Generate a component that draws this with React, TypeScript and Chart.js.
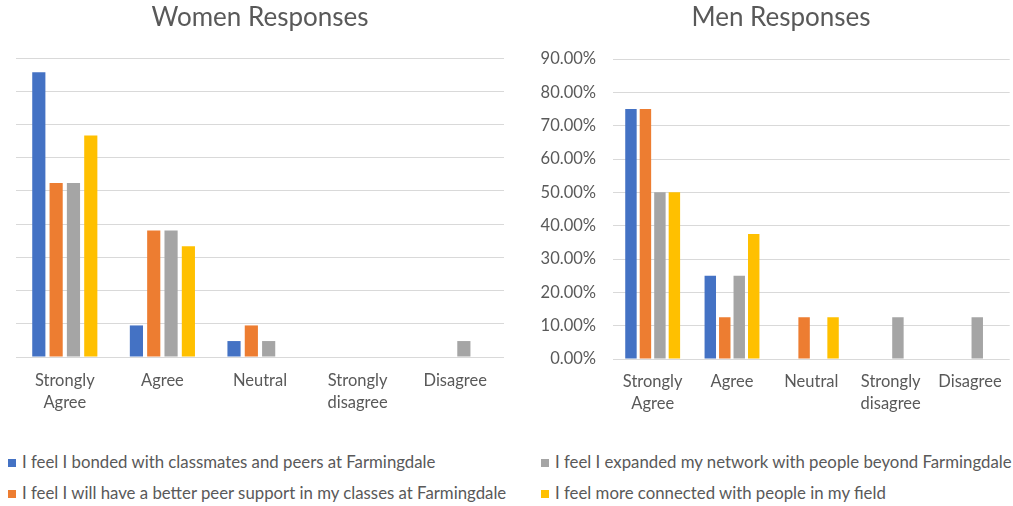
import React, { useEffect, useRef } from "react";
import { Chart, registerables } from "chart.js";

Chart.register(...registerables);

const categories = ["Strongly Agree", "Agree", "Neutral", "Strongly disagree", "Disagree"];
const seriesNames = [
  "I feel I bonded with classmates and peers at Farmingdale",
  "I feel I will have a better peer support in my classes at Farmingdale",
  "I feel I expanded my network with people beyond Farmingdale",
  "I feel more connected with people in my field",
];
const seriesColors = ["#4472C4", "#ED7D31", "#A5A5A5", "#FFC000"];

const womenBonded = [0.857, 0.095, 0.048, 0, 0];
const womenSupport = [0.524, 0.381, 0.095, 0, 0];
const womenNetwork = [0.524, 0.381, 0.048, 0, 0.048];
const womenField = [0.667, 0.333, 0, 0, 0];

const menBonded = [0.75, 0.25, 0, 0, 0];
const menSupport = [0.75, 0.125, 0.125, 0, 0];
const menNetwork = [0.5, 0.25, 0, 0.125, 0.125];
const menField = [0.5, 0.375, 0.125, 0, 0];

const yTickLabels = ["0.00%", "10.00%", "20.00%", "30.00%", "40.00%", "50.00%", "60.00%", "70.00%", "80.00%", "90.00%"];

const FONT = "Lato, 'Open Sans', sans-serif";
const TEXT = "#595959";
const GRID = "#d9d9d9";
const SMALL = 16.5;
const TITLE_SIZE = 26;

type Cfg = {
  title: string;
  series: number[][];
  showY: boolean;
  left: number;
  width: number;
  padLeft: number;
  padRight: number;
  yWidth: number;
  plotTop: number;
  plotBottom: number;
  catPct: number;
  barPct: number;
  titleCenter: number;
  labelPad: number;
};

const H = 420;

function BarPanel(c: Cfg) {
  const ref = useRef<HTMLCanvasElement | null>(null);
  useEffect(() => {
    if (!ref.current) return;
    const titleLine = TITLE_SIZE * 1.2;
    const titleTop = 18 - titleLine / 2;
    const chart = new Chart(ref.current, {
      type: "bar",
      data: {
        labels: categories.map((s) => s.split(" ")),
        datasets: c.series.map((d, i) => ({
          label: seriesNames[i],
          data: d,
          backgroundColor: seriesColors[i],
          borderWidth: 0,
          categoryPercentage: c.catPct,
          barPercentage: c.barPct,
        })),
      },
      plugins: [
        {
          id: "titleCenter",
          afterLayout(ch: any) {
            const tb = ch.titleBlock;
            if (tb) {
              const w = tb.right - tb.left;
              tb.left = c.titleCenter - w / 2;
              tb.right = c.titleCenter + w / 2;
            }
          },
        },
      ],
      options: {
        animation: false,
        responsive: false,
        maintainAspectRatio: false,
        layout: { padding: { left: c.padLeft, right: c.padRight, top: 0, bottom: 0 } },
        plugins: {
          legend: { display: false },
          tooltip: { enabled: false },
          title: {
            display: true,
            text: c.title,
            color: TEXT,
            font: { family: FONT, size: TITLE_SIZE, weight: "normal", lineHeight: 1.2 },
            padding: { top: titleTop, bottom: c.plotTop - titleTop - titleLine },
          },
        },
        scales: {
          x: {
            grid: { display: false, drawTicks: false },
            border: { display: false },
            ticks: {
              color: TEXT,
              font: { family: FONT, size: SMALL, lineHeight: 1.36 },
              padding: c.labelPad,
              maxRotation: 0,
              autoSkip: false,
            },
            afterFit: (s: any) => {
              s.height = H - c.plotBottom;
            },
          },
          y: {
            min: 0,
            max: 0.9,
            grid: { color: GRID, lineWidth: 1, drawTicks: false },
            border: { display: false },
            ticks: {
              display: c.showY,
              stepSize: 0.1,
              color: TEXT,
              padding: 17,
              font: { family: FONT, size: SMALL },
              callback: (_v: any, i: number) => yTickLabels[i],
            },
            afterFit: (s: any) => {
              s.width = c.yWidth;
            },
          },
        },
      },
    });
    return () => chart.destroy();
  }, []);
  return (
    <canvas
      ref={ref}
      width={c.width}
      height={H}
      style={{ position: "absolute", left: c.left, top: 0, width: c.width, height: H }}
    />
  );
}

export default function App() {
  useEffect(() => {
    document.body.style.margin = "0";
  }, []);
  const legendItem = (i: number) => (
    <div style={{ display: "flex", alignItems: "center", height: 31, whiteSpace: "nowrap" }}>
      <span
        style={{
          display: "inline-block",
          width: 8,
          height: 8,
          background: seriesColors[i],
          marginRight: 6,
          marginTop: 3,
        }}
      />
      <span>{seriesNames[i]}</span>
    </div>
  );
  const legendStyle = {
    position: "absolute" as const,
    top: 446,
    fontFamily: FONT,
    fontSize: 16.8,
    color: TEXT,
  };
  return (
    <div style={{ position: "fixed", left: 0, top: 0, width: 1013, height: 506, background: "#fff", overflow: "hidden" }}>
      <BarPanel
        title="Women Responses"
        series={[womenBonded, womenSupport, womenNetwork, womenField]}
        showY={false}
        left={0}
        width={510}
        padLeft={16}
        padRight={6}
        yWidth={0}
        plotTop={58}
        plotBottom={357}
        catPct={0.71}
        barPct={0.76}
        titleCenter={260}
        labelPad={12}
      />
      <BarPanel
        title="Men Responses"
        series={[menBonded, menSupport, menNetwork, menField]}
        showY={true}
        left={510}
        width={503}
        padLeft={0}
        padRight={3}
        yWidth={103}
        plotTop={59}
        plotBottom={359}
        catPct={0.73}
        barPct={0.79}
        titleCenter={271}
        labelPad={11}
      />
      <div style={{ ...legendStyle, left: 8 }}>
        {legendItem(0)}
        {legendItem(1)}
      </div>
      <div style={{ ...legendStyle, left: 541 }}>
        {legendItem(2)}
        {legendItem(3)}
      </div>
    </div>
  );
}
